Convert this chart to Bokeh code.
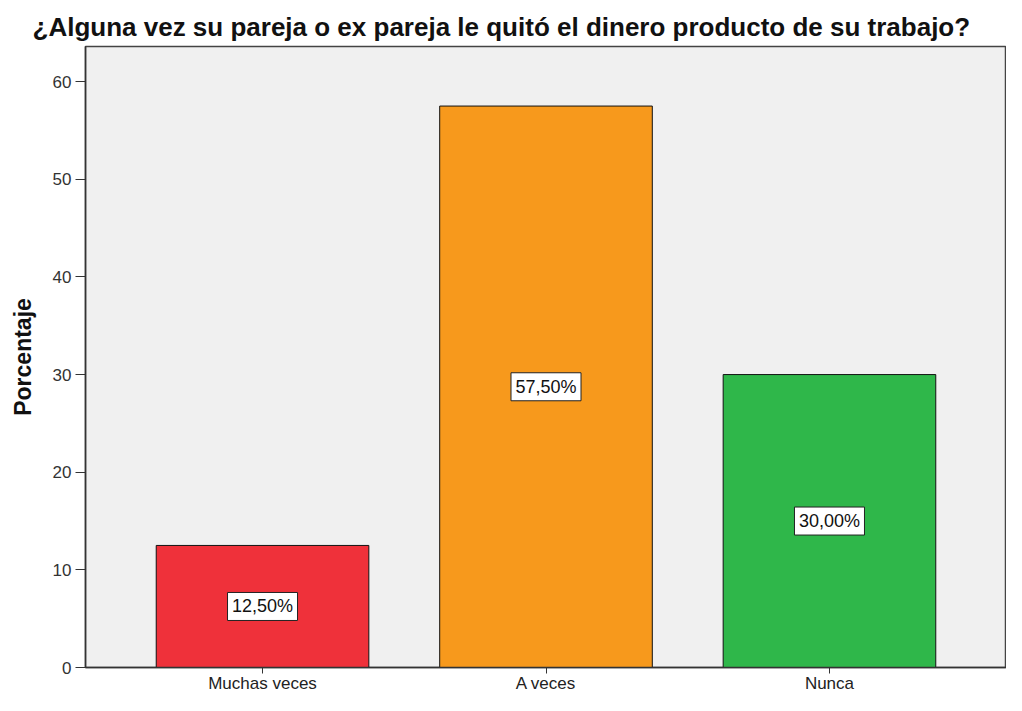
from bokeh.plotting import figure
from bokeh.models import ColumnDataSource, FactorRange, Range1d, FixedTicker
from bokeh.core.properties import value
from bokeh.embed import file_html
from bokeh.resources import INLINE

title = "¿Alguna vez su pareja o ex pareja le quitó el dinero producto de su trabajo?"
categories = ["Muchas veces", "A veces", "Nunca"]
percentages = [12.5, 57.5, 30.0]
colors = ["#EF313A", "#F7991C", "#2FB74A"]
y_ticks = [0, 10, 20, 30, 40, 50, 60]
y_label = "Porcentaje"

labels = [f"{v:.2f}%".replace(".", ",") for v in percentages]
mids = [v / 2 for v in percentages]
src = ColumnDataSource(dict(cat=categories, val=percentages, col=colors,
                            lab=labels, mid=mids))

FONT = "Liberation Sans"

p = figure(width=1006, height=695, output_backend="svg", toolbar_location=None,
           x_range=FactorRange(*categories, range_padding=0.083,
                               range_padding_units="percent"),
           y_range=Range1d(0, 63.6),
           min_border_left=85, min_border_top=46, min_border_right=0,
           min_border_bottom=25)

p.vbar(x="cat", top="val", width=0.75, fill_color="col", line_color="#111111",
       line_width=1, source=src)
p.rect(x="cat", y="mid", width=70, height=28, width_units="screen",
       height_units="screen", fill_color="white", line_color="#222222",
       line_width=1, source=src)
p.text(x="cat", y="mid", text="lab", text_align="center", text_baseline="middle",
       text_font=value(FONT), text_font_size="18px", text_color="#111111",
       source=src)

p.title.text = title
p.title.text_font = FONT
p.title.text_font_size = "26px"
p.title.text_font_style = "bold"
p.title.text_color = "#111111"
p.title.align = "left"
p.title.offset = -53

p.background_fill_color = "#F0F0F0"
p.border_fill_color = "white"
p.outline_line_color = "#444444"
p.outline_line_width = 1.5
p.xgrid.visible = False
p.ygrid.visible = False

p.yaxis.ticker = FixedTicker(ticks=y_ticks)
p.yaxis.axis_label = y_label
p.yaxis.axis_label_text_font = FONT
p.yaxis.axis_label_text_font_size = "23px"
p.yaxis.axis_label_text_font_style = "bold"
p.yaxis.axis_label_text_color = "#111111"
p.yaxis.axis_label_standoff = 14
p.yaxis.major_label_text_font = FONT
p.yaxis.major_label_text_font_size = "17px"
p.yaxis.major_label_text_color = "#333333"
p.yaxis.major_tick_out = 10
p.yaxis.major_tick_in = 0
p.yaxis.minor_tick_out = 0
p.yaxis.minor_tick_in = 0
p.yaxis.major_label_standoff = 4
p.yaxis.axis_line_color = "#333333"
p.yaxis.major_tick_line_color = "#333333"
p.yaxis.axis_line_width = 1.5

p.xaxis.major_label_text_font = FONT
p.xaxis.major_label_text_font_size = "17px"
p.xaxis.major_label_text_color = "#222222"
p.xaxis.major_tick_out = 6
p.xaxis.major_tick_in = 0
p.xaxis.major_label_standoff = 0
p.xaxis.axis_line_color = "#333333"
p.xaxis.major_tick_line_color = "#333333"
p.xaxis.axis_line_width = 1.5

open("out.html", "w").write(file_html(p, INLINE))
